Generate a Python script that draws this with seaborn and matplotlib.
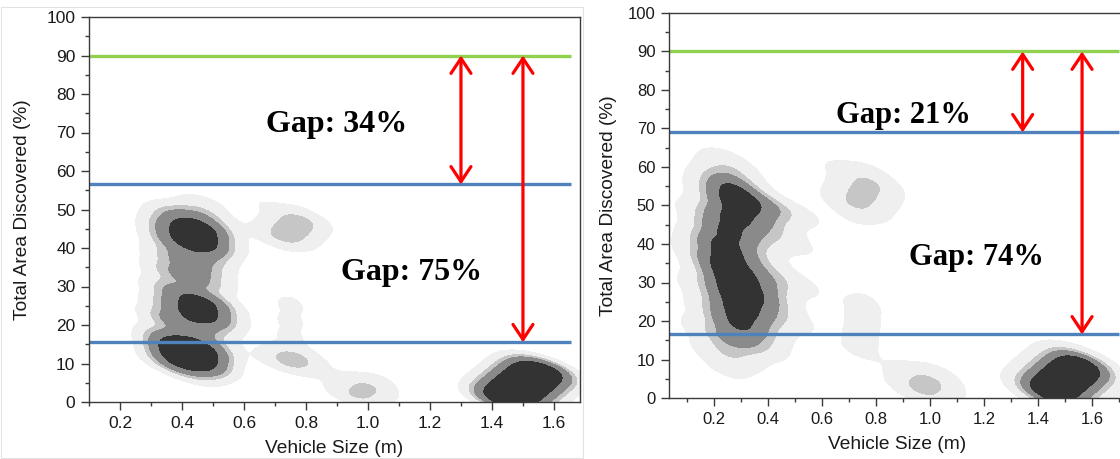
import numpy as np
import matplotlib
matplotlib.use("Agg")
import matplotlib.pyplot as plt
from matplotlib.contour import ContourSet
from matplotlib.patches import FancyArrowPatch, Rectangle
from matplotlib.ticker import MultipleLocator
import seaborn as sns

# Runs of the first fleet: vehicle size (m), total area discovered (%), number of runs
left_size = [0.465, 0.465, 0.46, 0.46, 0.465, 0.465, 0.465, 0.47, 0.47, 0.47, 0.465, 0.46, 0.455, 0.445,
             0.39, 0.38, 0.365, 0.365, 0.37, 0.365, 0.365, 0.365, 0.37, 0.37, 0.375,
             0.62, 0.72, 0.725, 0.755, 0.785, 0.78,
             0.74, 0.77, 0.75, 0.75, 0.75, 0.755,
             0.96, 1.00, 1.04,
             1.44, 1.47, 1.50, 1.53, 1.56]
left_area = [52, 48.5, 45, 41.5, 38, 34.5, 31, 26, 22.5, 19.5, 16.5, 13.5, 10, 6.5,
             13, 10, 16.5, 21.5, 25.5, 29.5, 34, 38, 42, 45.5, 49,
             53, 37, 42.5, 45, 47.5, 53,
             10, 12, 17, 21, 25, 28.5,
             1.5, 4, 6.5,
             0.5, 2.5, 4.5, 6.5, 8.5]
left_runs = [0.5, 1.0, 2.7, 2.7, 1.2, 1.1, 1.1, 2.5, 2.5, 0.9, 1.0, 2.6, 2.2, 0.5,
             2.6, 1.6, 1.4, 1.4, 1.0, 1.0, 1.0, 0.9, 1.2, 1.2, 0.8,
             0.3, 0.3, 1.0, 1.0, 1.0, 0.3,
             0.9, 0.9, 0.4, 0.4, 0.4, 0.28,
             0.95, 0.95, 0.3,
             3.4, 3.4, 3.4, 3.4, 3.4]

# Runs of the second fleet
right_size = [0.25, 0.26, 0.265, 0.27, 0.265, 0.25, 0.24, 0.245, 0.26, 0.28, 0.285, 0.28, 0.27, 0.27, 0.25,
              0.385, 0.385, 0.37, 0.36, 0.37, 0.385, 0.385, 0.38, 0.37, 0.36,
              0.185, 0.185, 0.185, 0.185, 0.185, 0.19, 0.195, 0.2,
              0.50, 0.50, 0.50, 0.49,
              0.09, 0.08, 0.08, 0.09,
              0.62, 0.72, 0.72, 0.75, 0.78, 0.78,
              0.735, 0.745, 0.75, 0.755, 0.765,
              0.96, 1.00, 1.04,
              1.434, 1.467, 1.50, 1.533, 1.566]
right_area = [62.5, 59, 55, 51, 47, 43, 39, 35, 31, 27, 23, 19, 15, 11, 7,
              50, 46, 42, 38, 34, 30, 26, 22, 18, 14,
              54, 47, 41, 35, 29, 23, 17, 12,
              48, 40, 30, 20,
              50, 40, 30, 20,
              61, 45, 50, 53, 56, 60,
              12, 16, 20, 24, 27.5,
              2, 4.5, 7,
              1, 3, 5, 7, 9]
right_runs = [0.5, 1.2, 3.0, 3.0, 3.0, 3.0, 3.0, 3.0, 3.0, 3.0, 3.0, 2.6, 1.6, 1.0, 0.5,
              1.8, 1.4, 0.9, 0.6, 0.9, 1.7, 1.8, 1.1, 1.0, 0.9,
              0.35, 0.5, 0.6, 0.6, 0.5, 0.47, 0.47, 0.42,
              0.6, 0.5, 0.6, 0.45,
              0.16, 0.2, 0.2, 0.16,
              0.25, 0.3, 1.35, 1.35, 1.35, 0.3,
              0.48, 0.48, 0.48, 0.48, 0.28,
              1.4, 1.4, 0.35,
              3.8, 3.8, 3.8, 3.8, 3.8]

# Reference lines (% of area) and gap annotations
target_area = 90
left_found = [56.5, 15.5]
right_found = [69, 16.5]
left_gap_labels = ["Gap: 34%", "Gap: 75%"]
right_gap_labels = ["Gap: 21%", "Gap: 74%"]

shade_colors = ["#efefef", "#c6c6c6", "#8a8a8a", "#333333"]
left_levels = [0.08, 0.24, 0.35, 0.6, 1.0]
right_levels = [0.065, 0.26, 0.38, 0.62, 1.0]

sns.set_style("ticks")
plt.rcParams["font.family"] = ["Liberation Sans", "DejaVu Sans"]
plt.rcParams["axes.edgecolor"] = "#3a3a3a"
plt.rcParams["axes.linewidth"] = 1.0
plt.rcParams["xtick.color"] = "#3a3a3a"
plt.rcParams["ytick.color"] = "#3a3a3a"
plt.rcParams["xtick.labelcolor"] = "#1a1a1a"
plt.rcParams["ytick.labelcolor"] = "#1a1a1a"

W, H = 1120, 459
fig = plt.figure(figsize=(W / 100, H / 100), dpi=100)
ax_l = fig.add_axes([89 / W, (H - 402) / H, 491 / W, 385 / H])
ax_r = fig.add_axes([669 / W, (H - 398) / H, 456 / W, 385 / H])

# faint frame around the first panel
fig.add_artist(Rectangle((0.6 / W, 1 / H), 582 / W, 451 / H, transform=fig.transFigure,
                         fill=False, edgecolor="#e2e2e2", lw=0.8))


def draw_panel(ax, size, area, runs, xlim, kernel_x, levels, found, line_end,
               arrow_x, labels, label_pos, tick_fs, label_fs, gap_fs, ylabelpad):
    # bandwidth chosen so the kernel spans about kernel_x metres
    sx = np.sqrt(np.cov(size, aweights=np.asarray(runs, float)))
    sns.kdeplot(x=size, y=area, weights=runs, fill=True, levels=levels,
                bw_method=kernel_x / sx, clip=(xlim, (0, 100)), gridsize=300, ax=ax)
    # grey shading, one tone per density band
    for cs in ax.collections:
        if isinstance(cs, ContourSet):
            cs.set_array(None)
            cs.set_facecolor(shade_colors)
            cs.set_edgecolor("none")
            cs.set_zorder(1)
    ax.set_xlim(*xlim)
    ax.set_ylim(0, 100)
    ax.hlines(target_area, xlim[0], line_end, color="#92d050", lw=2.4, zorder=3)
    ax.hlines(found, xlim[0], line_end, color="#4f81bd", lw=2.4, zorder=3)
    for xa, low in zip(arrow_x, found):
        ax.add_patch(FancyArrowPatch((xa, low), (xa, target_area),
                                     arrowstyle="<->,head_length=0.6,head_width=0.4",
                                     mutation_scale=18, color="#ff0000", lw=2.3,
                                     shrinkA=0, shrinkB=0, zorder=4))
    for (tx, ty), s in zip(label_pos, labels):
        ax.text(tx, ty, s, ha="center", va="baseline", fontsize=gap_fs,
                fontweight="bold", family=["Liberation Serif", "DejaVu Serif"],
                color="black", zorder=5)
    ax.xaxis.set_major_locator(MultipleLocator(0.2))
    ax.xaxis.set_minor_locator(MultipleLocator(0.1))
    ax.yaxis.set_major_locator(MultipleLocator(10))
    ax.yaxis.set_minor_locator(MultipleLocator(5))
    ax.tick_params(which="major", length=5.8, width=1.0, labelsize=tick_fs, pad=4)
    ax.tick_params(which="minor", length=3, width=1.0)
    ax.set_xlabel("Vehicle Size (m)", fontsize=label_fs, color="#1a1a1a", labelpad=7)
    ax.set_ylabel("Total Area Discovered (%)", fontsize=label_fs, color="#1a1a1a",
                  labelpad=ylabelpad)
    ax.set_facecolor("white")
    for sp in ax.spines.values():
        sp.set_visible(True)
        sp.set_zorder(6)


draw_panel(ax_l, left_size, left_area, left_runs, (0.1, 1.684), 0.07, left_levels,
           left_found, 1.655, [1.3, 1.5], left_gap_labels,
           [(0.898, 70.1), (1.139, 31.7)], 12.5, 13.8, 23, 11)
draw_panel(ax_r, right_size, right_area, right_runs, (0.0333, 1.722), 0.08, right_levels,
           right_found, 1.7, [1.343, 1.563], right_gap_labels,
           [(0.902, 71.5), (1.17, 34.5)], 12, 13.8, 22, 8)

fig.savefig("out.png", dpi=100, facecolor="white")
